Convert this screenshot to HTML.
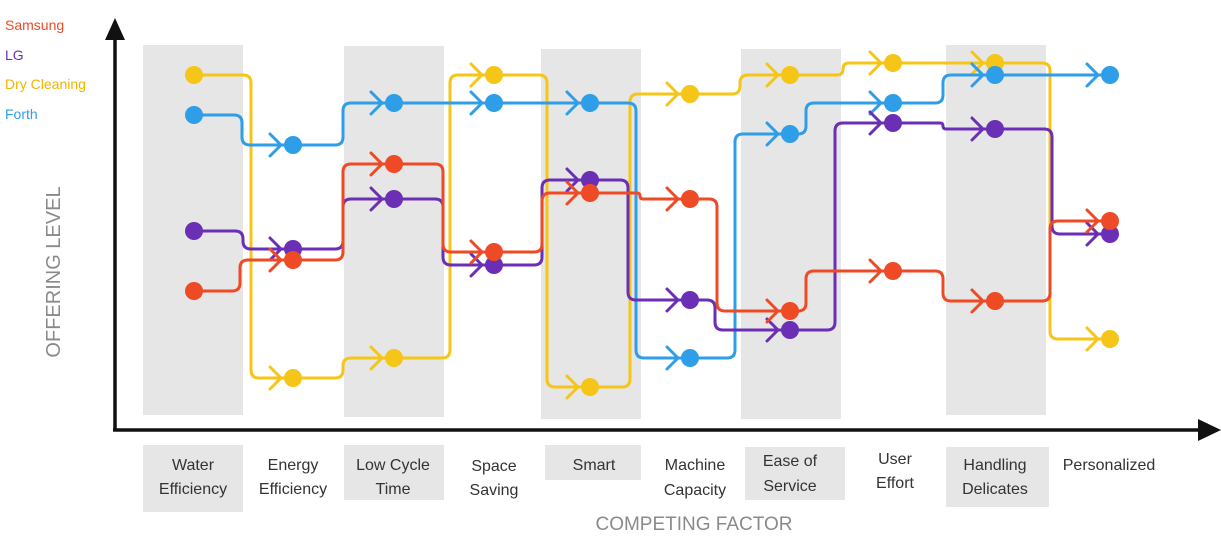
<!DOCTYPE html>
<html><head><meta charset="utf-8"><style>
body{margin:0;width:1221px;height:542px;background:#fff;overflow:hidden;font-family:"Liberation Sans",sans-serif;}
svg{position:absolute;left:0;top:0}
</style></head><body>
<svg id="s" width="1221" height="542" viewBox="0 0 1221 542">
<g fill="#e6e6e6">
<rect x="143" y="45" width="100" height="370"/>
<rect x="344" y="46" width="100" height="371"/>
<rect x="541" y="49" width="100" height="370"/>
<rect x="741" y="49" width="100" height="370"/>
<rect x="946" y="45" width="100" height="370"/>
<rect x="143" y="445" width="100" height="67"/>
<rect x="344" y="445" width="100" height="55"/>
<rect x="545" y="445" width="96" height="35"/>
<rect x="745" y="447" width="100" height="53"/>
<rect x="946" y="447" width="103" height="60"/>
</g>
<g stroke="#111" stroke-width="3.5" fill="#111">
<line x1="115" y1="36" x2="115" y2="430"/>
<line x1="113" y1="430" x2="1205" y2="430"/>
<polygon points="115,18 105,40 125,40" stroke="none"/>
<polygon points="1221,430 1198,419 1198,441" stroke="none"/>
</g>
<g id="lines" fill="none" stroke-width="3" stroke-linecap="round" stroke-linejoin="round"></g>
<g font-size="14">
<text x="5" y="30" fill="#ee4a26">Samsung</text>
<text x="5" y="60" fill="#6a2fb5">LG</text>
<text x="5" y="89" fill="#f0b400">Dry Cleaning</text>
<text x="5" y="119" fill="#2f9ee8">Forth</text>
</g>
<text transform="translate(60,272) rotate(-90)" text-anchor="middle" font-size="20" fill="#8a8a8a">OFFERING LEVEL</text>
<text x="694" y="530" text-anchor="middle" font-size="19" fill="#8a8a8a">COMPETING FACTOR</text>
<g font-size="16" fill="#333" text-anchor="middle">
<text x="193" y="470">Water</text><text x="193" y="494">Efficiency</text>
<text x="293" y="470">Energy</text><text x="293" y="494">Efficiency</text>
<text x="393" y="470">Low Cycle</text><text x="393" y="494">Time</text>
<text x="494" y="471">Space</text><text x="494" y="495">Saving</text>
<text x="594" y="470">Smart</text>
<text x="695" y="470">Machine</text><text x="695" y="495">Capacity</text>
<text x="790" y="466">Ease of</text><text x="790" y="491">Service</text>
<text x="895" y="464">User</text><text x="895" y="488">Effort</text>
<text x="995" y="470">Handling</text><text x="995" y="494">Delicates</text>
<text x="1109" y="470">Personalized</text>
</g>
</svg>
<script>
var X=[194,293,394,494,590,690,790,893,995,1110];
var S=[
{c:"#f5c518",y:[75,378,358,75,387,94,75,63,63,339],t:[251,343,450,547,630,740,843,943,1050]},
{c:"#2f9ee8",y:[115,145,103,103,103,358,134,103,75,75],t:[242,343,445,540,636,735,806,943,1050]},
{c:"#6a2fb5",y:[231,249,199,265,180,300,330,123,129,234],t:[243,343,443,542,628,715,835,943,1052]},
{c:"#ee4a26",y:[291,260,164,252,193,199,311,271,301,221],t:[240,343,443,542,640,717,806,943,1050]}
];
var g=document.getElementById('lines'),ns="http://www.w3.org/2000/svg",out="";
S.forEach(function(s){
 var d="M"+X[0]+","+s.y[0];
 for(var i=0;i<9;i++){
  var y1=s.y[i],y2=s.y[i+1],tx=s.t[i];
  if(Math.abs(y2-y1)<2){d+=" L"+(X[i+1])+","+y2;continue;}
  var sg=y2>y1?1:-1,r=Math.min(8,Math.abs(y2-y1)/2);
  d+=" L"+(tx-r)+","+y1+" Q"+tx+","+y1+" "+tx+","+(y1+sg*r)+" L"+tx+","+(y2-sg*r)+" Q"+tx+","+y2+" "+(tx+r)+","+y2+" L"+X[i+1]+","+y2;
 }
 out+='<path d="'+d+'" stroke="'+s.c+'"/>';
 for(var i=0;i<10;i++){
  out+='<circle cx="'+X[i]+'" cy="'+s.y[i]+'" r="9" fill="'+s.c+'" stroke="none"/>';
  if(i>0) out+='<path d="M'+(X[i]-23)+','+(s.y[i]-11)+' L'+(X[i]-12)+','+s.y[i]+' L'+(X[i]-23)+','+(s.y[i]+11)+'" stroke="'+s.c+'"/>';
 }
});
g.innerHTML=out;
</script>
</body></html>
